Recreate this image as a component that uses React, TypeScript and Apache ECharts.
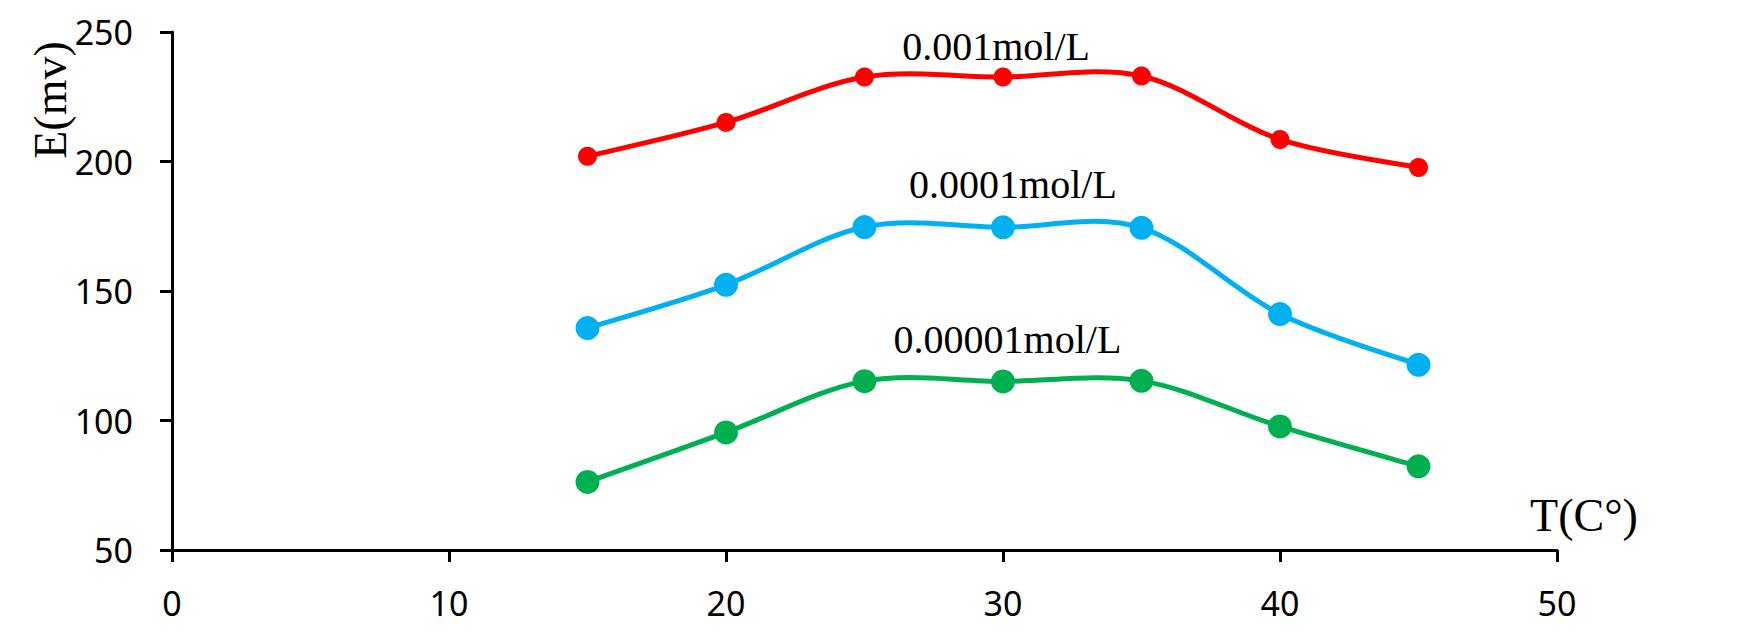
import React, { useEffect, useRef } from "react";
import * as echarts from "echarts";

const temperatures = [15, 20, 25, 30, 35, 40, 45];
const seriesNames = ["0.001mol/L", "0.0001mol/L", "0.00001mol/L"];
const red = [202, 215.1, 232.6, 232.6, 233, 208.5, 197.7];
const blue = [135.7, 152.4, 174.7, 174.6, 174.4, 141.1, 121.5];
const green = [76.3, 95.4, 115.2, 115.1, 115.3, 97.7, 82.3];
const labelX = [29.75, 30.36, 30.16];
const labelY = [244.3, 191, 131.2];
const colors = ["#FF0000", "#00B0F0", "#00B050"];
const markerSizes = [19, 24, 24];
const xTitle = "T(C°)";
const yTitle = "E(mv)";

export default function App() {
  const ref = useRef<HTMLDivElement>(null);
  useEffect(() => {
    if (!ref.current) return;
    const chart = echarts.init(ref.current, null, { renderer: "svg" });
    const values = [red, blue, green];
    const tickFont = { fontFamily: "Noto Sans", fontSize: 34, color: "#000" };

    const curveSeries = values.map((vals, i) => ({
      name: seriesNames[i] + " curve",
      type: "custom",
      silent: true,
      clip: false,
      z: 2,
      data: temperatures.map((t, j) => [t, vals[j]]),
      renderItem: (params: any, api: any) => {
        const j = params.dataIndex;
        const n = temperatures.length;
        if (j >= n - 1) return { type: "group", children: [] };
        const pt = (k: number) => {
          const kk = Math.max(0, Math.min(n - 1, k));
          return api.coord([temperatures[kk], vals[kk]]);
        };
        const p0 = pt(j - 1);
        const p1 = pt(j);
        const p2 = pt(j + 1);
        const p3 = pt(j + 2);
        const t = 1 / 6;
        const c1 = [p1[0] + (p2[0] - p0[0]) * t, p1[1] + (p2[1] - p0[1]) * t];
        const c2 = [p2[0] - (p3[0] - p1[0]) * t, p2[1] - (p3[1] - p1[1]) * t];
        const d = `M${p1[0]} ${p1[1]} C${c1[0]} ${c1[1]} ${c2[0]} ${c2[1]} ${p2[0]} ${p2[1]}`;
        return {
          type: "path",
          shape: { pathData: d },
          style: { stroke: colors[i], lineWidth: 5, fill: null, lineCap: "round" },
        };
      },
    }));

    const markerSeries = values.map((vals, i) => ({
      name: seriesNames[i],
      type: "scatter",
      symbol: "circle",
      symbolSize: markerSizes[i],
      z: 4,
      data: temperatures.map((t, j) => [t, vals[j]]),
      itemStyle: { color: colors[i], opacity: 1 },
      markPoint: {
        symbol: "circle",
        symbolSize: 0,
        silent: true,
        data: [
          {
            coord: [labelX[i], labelY[i]],
            value: seriesNames[i],
            label: {
              show: true,
              position: "inside",
              formatter: seriesNames[i],
              fontFamily: "Liberation Serif",
              fontSize: 40,
              color: "#000",
            },
          },
        ],
      },
    }));

    chart.setOption({
      animation: false,
      backgroundColor: "#fff",
      grid: { left: 172, right: 197, top: 32, bottom: 83, containLabel: false },
      xAxis: {
        type: "value",
        min: 0,
        max: 50,
        interval: 10,
        axisLine: { lineStyle: { color: "#000", width: 3 } },
        axisTick: { show: true, inside: false, length: 12, lineStyle: { color: "#000", width: 3 } },
        splitLine: { show: false },
        axisLabel: { ...tickFont, margin: 36 },
      },
      yAxis: {
        type: "value",
        min: 50,
        max: 250,
        interval: 50,
        axisLine: { show: true, lineStyle: { color: "#000", width: 3 } },
        axisTick: { show: true, inside: false, length: 12, lineStyle: { color: "#000", width: 3 } },
        splitLine: { show: false },
        axisLabel: { ...tickFont, margin: 39 },
      },
      graphic: [
        {
          type: "text",
          x: 50,
          y: 100,
          rotation: Math.PI / 2,
          style: {
            text: yTitle,
            fontFamily: "Liberation Serif",
            fontSize: 46,
            fill: "#000",
            align: "center",
            verticalAlign: "middle",
          },
        },
        {
          type: "text",
          x: 1584,
          y: 515,
          style: {
            text: xTitle,
            fontFamily: "Liberation Serif",
            fontSize: 46,
            fill: "#000",
            align: "center",
            verticalAlign: "middle",
          },
        },
      ],
      series: [...curveSeries, ...markerSeries],
    });
    return () => chart.dispose();
  }, []);
  return (
    <div
      ref={ref}
      style={{ position: "fixed", left: 0, top: 0, width: 1754, height: 633, background: "#fff" }}
    />
  );
}
